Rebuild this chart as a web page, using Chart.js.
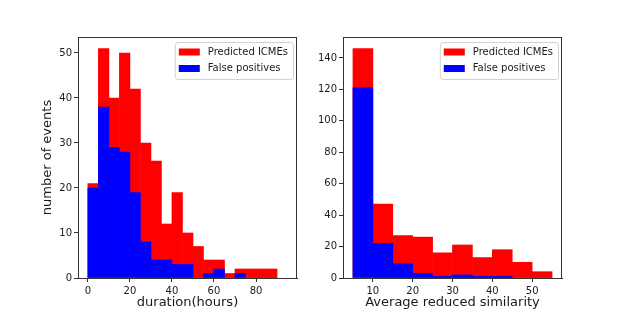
<!DOCTYPE html>
<html>
<head>
<meta charset="utf-8">
<script src="https://cdn.jsdelivr.net/npm/chart.js@4"></script>
<style>
  body { margin: 0; background: #fff; }
  #wrap { position: relative; width: 625px; height: 313px; }
  #left { position: absolute; left: 0; top: 0; }
  #right { position: absolute; left: 312px; top: 0; }
</style>
</head>
<body>
<div id="wrap">
  <canvas id="left" width="312" height="313"></canvas>
  <canvas id="right" width="313" height="313"></canvas>
</div>
<script>
// left histogram: duration, bin width 5 hours
var durationEdges = [0, 5, 10, 15, 20, 25, 30, 35, 40, 45, 50, 55, 60, 65, 70, 75, 80, 85]
var durationPredicted = [21, 51, 40, 50, 42, 30, 26, 12, 19, 10, 7, 4, 4, 1, 2, 2, 2, 2]
var durationFalse = [20, 38, 29, 28, 19, 8, 4, 4, 3, 3, 0, 1, 2, 0, 1, 0, 0, 0]

// right histogram: average reduced similarity, bin width 5
var similarityEdges = [5, 10, 15, 20, 25, 30, 35, 40, 45, 50]
var similarityPredicted = [146, 47, 27, 26, 16, 21, 13, 18, 10, 4]
var similarityFalse = [121, 22, 9, 3, 1, 2, 1, 1, 0, 0]

var seriesLabels = ['Predicted ICMEs', 'False positives']
var seriesColors = ['#ff0000', '#0000ff']

var FONT = 'DejaVu Sans'
var TEXT = '#1a1a1a'

function points(edges, values) {
  return edges.map(function (e, i) { return {x: e + 2.5, y: values[i]} })
}

// frame around plot area + matplotlib style legend box
var framePlugin = {
  id: 'frame',
  afterDraw: function (chart) {
    var ctx = chart.ctx, a = chart.chartArea
    ctx.save()
    ctx.strokeStyle = '#333'
    ctx.lineWidth = 1
    ctx.strokeRect(Math.round(a.left) + 0.5, Math.round(a.top) + 0.5,
      Math.round(a.right - a.left) - 1, Math.round(a.bottom - a.top))

    ctx.font = '10px "' + FONT + '"'
    var tw = Math.max.apply(null, seriesLabels.map(function (t) { return ctx.measureText(t).width }))
    var w = 4 + 21 + 8 + tw + 5, h = 37
    var x = a.right - 4 - w, y = a.top + 5
    ctx.beginPath()
    ctx.roundRect(x + 0.5, y + 0.5, w, h, 3)
    ctx.fillStyle = 'rgba(255,255,255,0.8)'
    ctx.fill()
    ctx.strokeStyle = '#d0d0d0'
    ctx.stroke()
    ctx.textBaseline = 'middle'
    seriesLabels.forEach(function (t, i) {
      var cy = y + 10 + i * 16.5
      ctx.fillStyle = seriesColors[i]
      ctx.fillRect(x + 4, cy - 3.5, 21, 7)
      ctx.fillStyle = TEXT
      ctx.fillText(t, x + 33, cy)
    })
    ctx.restore()
  }
}

function makeChart(id, edges, predicted, falsePos, opt) {
  var el = document.getElementById(id).getContext('2d')
  return new Chart(el, {
    type: 'bar',
    data: {
      datasets: [{
        label: seriesLabels[0],
        data: points(edges, predicted),
        backgroundColor: seriesColors[0],
        order: 2
      }, {
        label: seriesLabels[1],
        data: points(edges, falsePos),
        backgroundColor: seriesColors[1],
        order: 1
      }]
    },
    options: {
      responsive: false,
      animation: false,
      layout: {padding: {top: 37, right: opt.padRight, left: 0, bottom: 0}},
      datasets: {bar: {grouped: false, barPercentage: 1, categoryPercentage: 1, borderWidth: 0}},
      plugins: {legend: {display: false}, tooltip: {enabled: false}},
      scales: {
        x: {
          type: 'linear',
          offset: false,
          min: opt.xMin, max: opt.xMax,
          grid: {drawOnChartArea: false, offset: false, tickLength: 4, tickColor: '#333'},
          border: {color: '#333'},
          ticks: {stepSize: opt.xStep, includeBounds: false, color: TEXT, font: {family: FONT, size: 10}, padding: 3, maxRotation: 0},
          title: {display: true, text: opt.xTitle, color: TEXT, font: {family: FONT, size: 13}, padding: {top: 0, bottom: 3}},
          afterFit: function (s) { s.height = 35 }
        },
        y: {
          min: 0, max: opt.yMax,
          grid: {drawOnChartArea: false, tickLength: 4, tickColor: '#333'},
          border: {color: '#333'},
          ticks: {stepSize: opt.yStep, includeBounds: false, color: TEXT, font: {family: FONT, size: 10}, padding: 2},
          title: {display: opt.yTitle != null, text: opt.yTitle, color: TEXT, font: {family: FONT, size: 13}, padding: {top: 40, bottom: 0}},
          afterFit: function (s) { s.width = opt.yWidth }
        }
      }
    },
    plugins: [framePlugin]
  })
}

makeChart('left', durationEdges, durationPredicted, durationFalse, {
  xMin: -4.7, xMax: 99.5, xStep: 20, yMax: 53.55, yStep: 10,
  xTitle: 'duration(hours)', yTitle: 'number of events', yWidth: 78, padRight: 15
})

makeChart('right', similarityEdges, similarityPredicted, similarityFalse, {
  xMin: 2.5, xMax: 57.5, xStep: 10, yMax: 153.3, yStep: 20,
  xTitle: 'Average reduced similarity', yTitle: null, yWidth: 31, padRight: 63
})
</script>
</body>
</html>
